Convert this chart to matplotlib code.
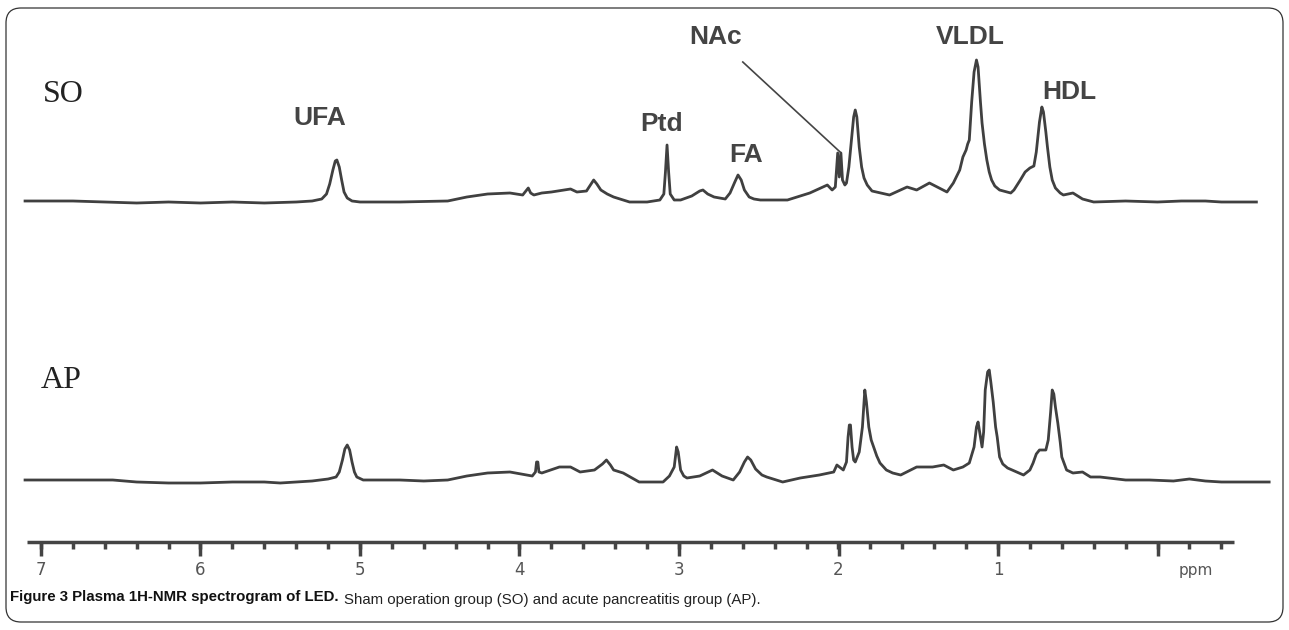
import numpy as np
import matplotlib.pyplot as plt
from matplotlib.patches import FancyBboxPatch

# spectrum data: chemical shift (ppm) and peak height above baseline
so_ppm = [7.10, 6.80, 6.60, 6.40, 6.20, 6.00, 5.80, 5.60, 5.40, 5.30, 5.24, 5.21, 5.19, 5.17,
          5.155, 5.145, 5.13, 5.115, 5.10, 5.08, 5.05, 5.00, 4.75, 4.45, 4.33, 4.20, 4.06, 3.98,
          3.955, 3.945, 3.93, 3.91, 3.86, 3.80, 3.72, 3.68, 3.64, 3.58, 3.555, 3.535, 3.515, 3.49,
          3.45, 3.41, 3.35, 3.31, 3.20, 3.12, 3.095, 3.085, 3.075, 3.065, 3.055, 3.03, 2.99, 2.92,
          2.87, 2.85, 2.82, 2.78, 2.71, 2.68, 2.65, 2.63, 2.61, 2.59, 2.56, 2.53, 2.49, 2.32,
          2.18, 2.07, 2.04, 2.02, 2.005, 1.995, 1.985, 1.975, 1.96, 1.95, 1.935, 1.92, 1.905, 1.895,
          1.885, 1.87, 1.855, 1.84, 1.82, 1.79, 1.68, 1.57, 1.51, 1.43, 1.32, 1.28, 1.24, 1.22,
          1.20, 1.19, 1.18, 1.165, 1.15, 1.135, 1.125, 1.11, 1.10, 1.085, 1.07, 1.055, 1.04, 1.02,
          0.99, 0.92, 0.90, 0.86, 0.83, 0.80, 0.775, 0.76, 0.74, 0.725, 0.715, 0.70, 0.69, 0.675,
          0.66, 0.64, 0.61, 0.59, 0.53, 0.47, 0.40, 0.20, 0.00, -0.15, -0.30, -0.40, -0.62]
so_int = [1, 1, 0, -1, 0, -1, 0, -1, 0, 1, 3, 8, 18, 32,
          41, 42, 35, 22, 10, 4, 1, 0, 0, 1, 5, 8, 9, 7,
          12, 14, 9, 7, 9, 10, 12, 13, 10, 11, 17, 22, 18, 12,
          8, 5, 2, 0, 0, 2, 8, 30, 57, 30, 8, 2, 2, 6,
          11, 12, 8, 5, 3, 9, 20, 27, 22, 12, 5, 3, 2, 2,
          9, 17, 12, 15, 49, 25, 49, 22, 17, 19, 35, 60, 85, 92,
          85, 55, 35, 24, 17, 11, 7, 15, 12, 19, 10, 19, 32, 45,
          52, 58, 62, 100, 130, 142, 135, 100, 79, 58, 42, 30, 22, 16,
          12, 9, 12, 22, 30, 34, 36, 50, 80, 95, 90, 70, 55, 35,
          22, 14, 9, 7, 9, 3, 0, 1, 0, 1, 1, 0, 0]

ap_ppm = [7.10, 6.75, 6.55, 6.40, 6.20, 6.00, 5.80, 5.60, 5.50, 5.40, 5.30, 5.20, 5.15, 5.13,
          5.11, 5.095, 5.08, 5.065, 5.05, 5.035, 5.02, 4.98, 4.75, 4.60, 4.45, 4.33, 4.20, 4.06,
          3.92, 3.90, 3.893, 3.885, 3.878, 3.86, 3.75, 3.68, 3.62, 3.53, 3.48, 3.455, 3.43, 3.41,
          3.35, 3.25, 3.10, 3.06, 3.03, 3.015, 3.005, 2.99, 2.97, 2.95, 2.87, 2.79, 2.73, 2.66,
          2.62, 2.59, 2.57, 2.55, 2.52, 2.48, 2.45, 2.35, 2.24, 2.12, 2.03, 2.01, 1.97, 1.95,
          1.94, 1.932, 1.925, 1.915, 1.905, 1.895, 1.87, 1.85, 1.835, 1.825, 1.81, 1.795, 1.78, 1.76,
          1.74, 1.70, 1.66, 1.61, 1.51, 1.41, 1.34, 1.28, 1.22, 1.18, 1.15, 1.135, 1.125, 1.115,
          1.10, 1.09, 1.08, 1.065, 1.055, 1.045, 1.03, 1.015, 1.005, 0.99, 0.97, 0.94, 0.84, 0.80,
          0.78, 0.76, 0.74, 0.70, 0.685, 0.67, 0.66, 0.65, 0.64, 0.625, 0.61, 0.60, 0.57, 0.53,
          0.47, 0.42, 0.36, 0.20, 0.05, -0.10, -0.20, -0.30, -0.40, -0.70]
ap_int = [2, 2, 2, 0, -1, -1, 0, 0, -1, 0, 1, 3, 5, 10,
          22, 33, 37, 32, 20, 10, 5, 2, 2, 1, 2, 6, 9, 10,
          6, 10, 20, 20, 10, 9, 15, 15, 10, 12, 18, 22, 17, 12,
          9, 0, 0, 6, 15, 35, 30, 12, 6, 4, 6, 12, 6, 2,
          10, 20, 25, 22, 13, 7, 5, 0, 4, 7, 10, 17, 12, 20,
          45, 57, 57, 35, 22, 20, 30, 55, 92, 80, 55, 42, 35, 26,
          19, 12, 9, 7, 15, 15, 17, 12, 15, 19, 35, 55, 60, 50,
          35, 50, 92, 110, 112, 100, 80, 55, 45, 25, 18, 14, 7, 12,
          19, 28, 32, 32, 42, 70, 92, 88, 75, 59, 40, 25, 12, 9,
          10, 5, 5, 2, 2, 1, 3, 1, 0, 0]

groups = ["SO", "AP"]
peak_names = ["UFA", "Ptd", "FA", "NAc", "VLDL", "HDL"]
major_ticks = [7, 6, 5, 4, 3, 2, 1, 0]
major_labels = ["7", "6", "5", "4", "3", "2", "1", ""]

W, H = 1289, 630
fig = plt.figure(figsize=(W / 100, H / 100), dpi=100)
ax = fig.add_axes([0, 0, 1, 1])
ppm_per_px = 1 / 159.5
ax.set_xlim(1157.5 * ppm_per_px, (1157.5 - W) * ppm_per_px)
ax.set_ylim(H, 0)

line_col = "#404040"
so_base, ap_base = 202, 482
ax.plot(so_ppm, so_base - np.array(so_int), color=line_col, lw=2.0, solid_joinstyle="round")
ax.plot(ap_ppm, ap_base - np.array(ap_int), color=line_col, lw=2.0, solid_joinstyle="round")

# group labels
grp = dict(family="Liberation Serif", fontsize=23, color="#222222", va="center")
ax.text(6.99, 94, groups[0], **grp)
ax.text(7.00, 380, groups[1], **grp)

# peak labels
lab = dict(family="Liberation Sans", fontsize=19, fontweight="bold", color="#444444", va="center")
ax.text(5.25, 118, peak_names[0], ha="center", **lab)
ax.text(3.11, 124, peak_names[1], ha="center", **lab)
ax.text(2.58, 155, peak_names[2], ha="center", **lab)
ax.text(2.77, 37, peak_names[3], ha="center", **lab)
ax.text(1.175, 37, peak_names[4], ha="center", **lab)
ax.text(0.72, 92, peak_names[5], ha="left", **lab)
ax.plot([2.60, 1.99], [62, 152], color="#444444", lw=1.2)

# ppm axis
ax_y = 542
ax.plot([7.09, -0.48], [ax_y, ax_y], color="#444444", lw=2.5, solid_capstyle="butt")
minor = np.arange(-0.4, 7.01, 0.2)
ax.vlines(minor, ax_y, ax_y + 7, color="#444444", lw=2.5)
ax.vlines(major_ticks, ax_y, ax_y + 14, color="#444444", lw=2.5)
for t, s in zip(major_ticks, major_labels):
    ax.text(t, ax_y + 28, s, ha="center", va="center", fontsize=12, color="#555555")
ax.text(-0.24, ax_y + 29, "ppm", ha="center", va="center", fontsize=11, color="#555555")
ax.axis("off")

# caption
cap = dict(family="Liberation Sans", fontsize=10.8, va="baseline")
t1 = ax.text((1157.5 - 10) * ppm_per_px, 601, "Figure 3 Plasma 1H-NMR spectrogram of LED.",
             fontweight="bold", color="#111111", **cap)
ax.annotate("Sham operation group (SO) and acute pancreatitis group (AP).", xy=(1, 0), xycoords=t1,
            xytext=(4, 0), textcoords="offset points", color="#222222", **cap)

# rounded frame (inches)
frame = FancyBboxPatch((0.06, 0.08), 12.77, 6.14, boxstyle="round,pad=0,rounding_size=0.15",
                       transform=fig.dpi_scale_trans, fill=False, edgecolor="#333333", lw=0.9)
fig.patches.append(frame)

fig.savefig("out.png", dpi=100)
